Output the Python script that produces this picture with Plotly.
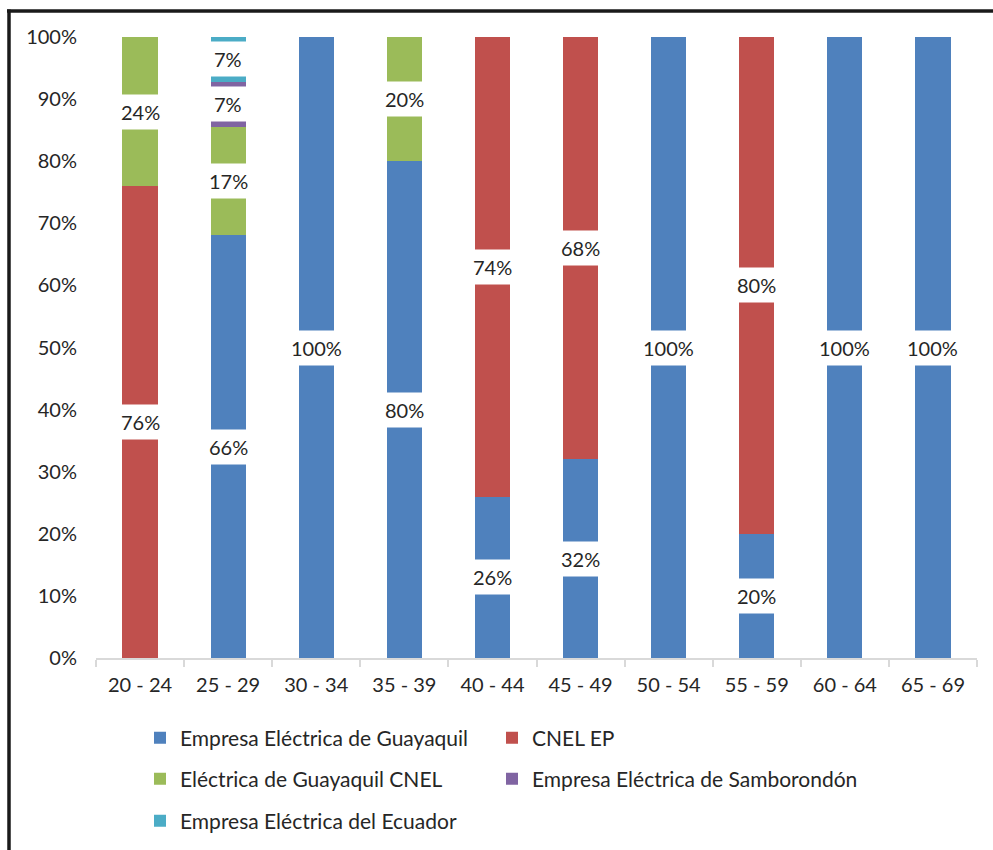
import plotly.graph_objects as go

categories = ["20 - 24", "25 - 29", "30 - 34", "35 - 39", "40 - 44",
              "45 - 49", "50 - 54", "55 - 59", "60 - 64", "65 - 69"]
guayaquil = [0, 66, 100, 80, 26, 32, 100, 20, 100, 100]
cnel_ep = [76, 0, 0, 0, 74, 68, 0, 80, 0, 0]
guayaquil_cnel = [24, 17, 0, 20, 0, 0, 0, 0, 0, 0]
samborondon = [0, 7, 0, 0, 0, 0, 0, 0, 0, 0]
ecuador = [0, 7, 0, 0, 0, 0, 0, 0, 0, 0]
y_ticks = [0, 10, 20, 30, 40, 50, 60, 70, 80, 90, 100]

series = [
    ("Empresa Eléctrica de Guayaquil", guayaquil, "#4F81BD", "legend", 307),
    ("CNEL EP", cnel_ep, "#C0504D", "legend", 340),
    ("Eléctrica de Guayaquil CNEL", guayaquil_cnel, "#9BBB59", "legend2", 307),
    ("Empresa Eléctrica de Samborondón", samborondon, "#8064A2", "legend2", 340),
    ("Empresa Eléctrica del Ecuador", ecuador, "#4BACC6", "legend3", 307),
]

FONT = "Lato"
TXT = "#262626"
FS = 20
LFS = 21

fig = go.Figure()
for name, vals, color, lg, lw in series:
    fig.add_trace(go.Bar(x=categories, y=vals, name=name, marker_color=color,
                         marker_line_width=0, legend=lg, legendwidth=lw,
                         showlegend=True))

# data labels (centred in each normalised segment, white box like Excel)
totals = [sum(s[1][i] for s in series) for i in range(len(categories))]
annotations = []
for i, cat in enumerate(categories):
    base = 0.0
    for name, vals, color, lg, lw in series:
        v = vals[i]
        if v > 0:
            h = v / totals[i] * 100
            annotations.append(dict(
                x=cat, y=base + h / 2, xref="x", yref="y", text=f"{v}%",
                showarrow=False, bgcolor="white", borderpad=5, borderwidth=1,
                bordercolor="rgba(0,0,0,0)", font=dict(family=FONT, size=FS, color=TXT)))
            base += h

L, R, T, B = 96, 16, 37, 192
W, H = 993, 850
pw, ph = W - L - R, H - T - B

def px_x(p):
    return (p - L) / pw

def px_y(p):
    return (H - B - p) / ph

shapes = [
    dict(type="line", xref="paper", yref="paper", x0=px_x(7), x1=px_x(995),
         y0=px_y(11), y1=px_y(11), line=dict(color="#1a1a1a", width=3.5)),
    dict(type="line", xref="paper", yref="paper", x0=px_x(9), x1=px_x(9),
         y0=px_y(9.5), y1=px_y(852), line=dict(color="#1a1a1a", width=3.5)),
]

leg_common = dict(orientation="h", xanchor="left", yanchor="middle", x=px_x(140),
                  traceorder="normal",
                  font=dict(family=FONT, size=LFS, color=TXT),
                  bgcolor="rgba(0,0,0,0)")

fig.update_layout(
    width=W, height=H,
    margin=dict(l=L, r=R, t=T, b=B, autoexpand=False),
    paper_bgcolor="white", plot_bgcolor="white",
    barmode="stack", barnorm="percent", bargap=0.6,
    font=dict(family=FONT, size=FS, color=TXT),
    annotations=annotations,
    shapes=shapes,
    legend=dict(leg_common, y=px_y(738)),
    legend2=dict(leg_common, y=px_y(779)),
    legend3=dict(leg_common, y=px_y(821)),
    xaxis=dict(type="category", showline=True, linecolor="#d9d9d9", linewidth=1.5,
               ticks="outside", tickson="boundaries", ticklen=7, tickcolor="#d9d9d9",
               tickwidth=1.5, showgrid=False, ticklabelstandoff=8,
               tickfont=dict(family=FONT, size=FS, color=TXT)),
    yaxis=dict(range=[0, 100], tickmode="array", tickvals=y_ticks,
               ticktext=[f"{t}%" for t in y_ticks],
               showgrid=False, zeroline=False, showline=False, ticks="",
               ticklabelstandoff=18, tickfont=dict(family=FONT, size=FS, color=TXT)),
)

fig.write_html("out.html")
